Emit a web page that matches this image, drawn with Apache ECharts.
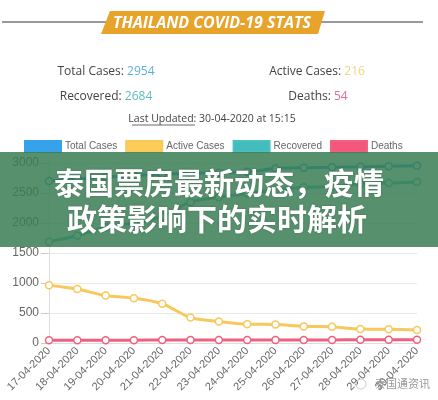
<!DOCTYPE html>
<html><head><meta charset="utf-8">
<script src="https://cdn.jsdelivr.net/npm/echarts@6/dist/echarts.min.js"></script>
<style>html,body{margin:0;padding:0;background:#fff}#c{width:438px;height:400px}</style>
</head><body><div id="c"></div>
<script>
const dates = ['17-04-2020','18-04-2020','19-04-2020','20-04-2020','21-04-2020','22-04-2020','23-04-2020','24-04-2020','25-04-2020','26-04-2020','27-04-2020','28-04-2020','29-04-2020','30-04-2020'];
const totalCases = [2700,2733,2765,2792,2811,2826,2839,2854,2907,2922,2931,2938,2947,2954];
const activeCases = [964,899,790,746,654,425,359,314,309,277,270,232,228,216];
const recovered = [1689,1787,1928,1999,2108,2352,2430,2490,2547,2594,2609,2652,2665,2684];
const deaths = [47,47,47,47,49,49,50,50,51,51,52,54,54,54];
const seriesNames = ['Total Cases','Active Cases','Recovered','Deaths'];
const headerTitle = 'THAILAND COVID-19 STATS';
const overlayLines = ['泰国票房最新动态，疫情','政策影响下的实时解析'];
const watermark = '泰国通资讯';

const colors = ['#36a2eb','#f7c85c','#4bc0c0','#f0607f'];
const legendColors = ['#36a2eb','#fdcb57','#45bcbc','#f5577c'];
const dataSets = [totalCases, activeCases, recovered, deaths];

const chart = echarts.init(document.getElementById('c'));
const series = seriesNames.map((n,i)=>({
  name:n, type:'line', data:dataSets[i], smooth:0.3,
  symbol:'circle', symbolSize:7,
  lineStyle:{color:colors[i], width:3},
  itemStyle:{color:'#fff', borderColor:colors[i], borderWidth:1.5},
  z: 2
}));
const font = 'Open Sans, Arial, sans-serif';
chart.setOption({
  animation:false,
  legend:{
    data:seriesNames.map((n,i)=>({name:n, itemStyle:{color:legendColors[i]}})),
    left:24, top:140, padding:0, icon:'rect', itemWidth:36, itemHeight:11, itemGap:8,
    textStyle:{color:'#666', fontSize:10, fontFamily:'Liberation Sans, Arial', padding:[0,0,0,-1]}
  },
  grid:{left:49, right:21, top:163, bottom:57, containLabel:false},
  xAxis:{type:'category', data:dates, boundaryGap:false,
    axisLine:{lineStyle:{color:'#ddd'}}, axisTick:{show:false},
    axisLabel:{rotate:45, color:'#666', fontSize:11, fontFamily:'Liberation Sans, Arial', margin:6, interval:0},
    splitLine:{show:false}},
  yAxis:{type:'value', min:0, max:3000, interval:500,
    axisLine:{show:true, lineStyle:{color:'#ddd'}},
    axisTick:{show:true, length:8, lineStyle:{color:'#ccc'}},
    axisLabel:{color:'#666', fontSize:12, fontFamily:'Liberation Sans, Arial', margin:10, formatter:v=>String(v)},
    splitLine:{lineStyle:{color:'#e8e8e8'}}},
  series,
  graphic:[
    {type:'line', shape:{x1:2,y1:22,x2:423,y2:22}, style:{stroke:'#333', lineWidth:1}, z:10},
    {type:'polygon', shape:{points:[[110,11],[325,11],[318,34],[101,34]]}, style:{fill:'#e8a32a'}, z:11},
    {type:'text', x:212, y:23, style:{text:headerTitle, fill:'#fff', font:'italic bold 16px Open Sans', align:'center', verticalAlign:'middle'}, z:12},
    {type:'text', x:106, y:72, style:{text:'{a|Total Cases: }{b|2954}', align:'center', verticalAlign:'middle', rich:{a:{fill:'#444', font:'12px '+font}, b:{fill:'#5fb0e0', font:'12px '+font}}}, z:12},
    {type:'text', x:317, y:72, style:{text:'{a|Active Cases: }{b|216}', align:'center', verticalAlign:'middle', rich:{a:{fill:'#444', font:'12px '+font}, b:{fill:'#f2d37e', font:'12px '+font}}}, z:12},
    {type:'text', x:106, y:97, style:{text:'{a|Recovered: }{b|2684}', align:'center', verticalAlign:'middle', rich:{a:{fill:'#444', font:'12px '+font}, b:{fill:'#5dbdbd', font:'12px '+font}}}, z:12},
    {type:'text', x:318, y:97, style:{text:'{a|Deaths: }{b|54}', align:'center', verticalAlign:'middle', rich:{a:{fill:'#444', font:'12px '+font}, b:{fill:'#e86b8c', font:'12px '+font}}}, z:12},
    {type:'text', x:212, y:119, style:{text:'Last Updated: 30-04-2020 at 15:15', fill:'#444', font:'10.5px '+font, align:'center', verticalAlign:'middle'}, z:12},
    {type:'line', shape:{x1:132,y1:125,x2:195,y2:125}, style:{stroke:'#444', lineWidth:0.8}, z:12},
    {type:'rect', shape:{x:0,y:152,width:438,height:95}, style:{fill:'rgba(58,124,84,0.85)'}, z:100},
    {type:'text', x:219, y:183, style:{text:overlayLines[0], fill:'#fff', font:'bold 30px "Noto Sans CJK SC"', align:'center', verticalAlign:'middle', textShadowColor:'rgba(0,0,0,0.25)', textShadowBlur:2}, z:101},
    {type:'text', x:217, y:219, style:{text:overlayLines[1], fill:'#fff', font:'bold 30px "Noto Sans CJK SC"', align:'center', verticalAlign:'middle', textShadowColor:'rgba(0,0,0,0.25)', textShadowBlur:2}, z:101},
    {type:'circle', shape:{cx:361,cy:384,r:5}, style:{fill:'none', stroke:'#ccc', lineWidth:1}, z:50},
    {type:'text', x:375, y:384, style:{text:watermark, fill:'#999', font:'11px "Noto Sans CJK SC"', verticalAlign:'middle'}, z:50}
  ]
});
</script></body></html>
